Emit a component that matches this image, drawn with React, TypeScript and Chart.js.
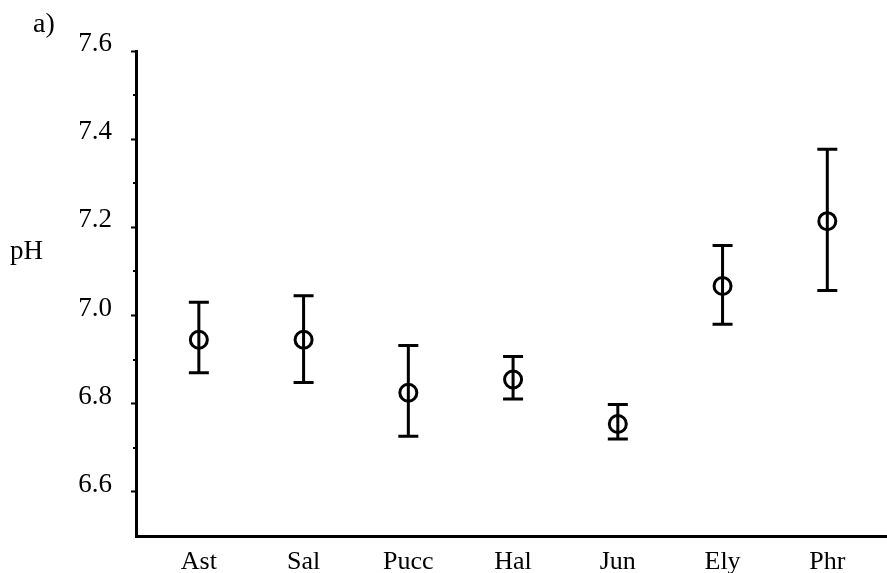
import React, { useEffect, useRef } from 'react';
import { Chart, registerables } from 'chart.js';

Chart.register(...registerables);

const categories = ['Ast', 'Sal', 'Pucc', 'Hal', 'Jun', 'Ely', 'Phr'];
const means = [6.945, 6.945, 6.825, 6.855, 6.754, 7.067, 7.214];
const upper = [7.030, 7.045, 6.932, 6.907, 6.798, 7.159, 7.377];
const lower = [6.870, 6.848, 6.726, 6.811, 6.720, 6.980, 7.057];
const yMajorTicks = [6.6, 6.8, 7.0, 7.2, 7.4, 7.6];
const yMinorTicks = [6.7, 6.9, 7.1, 7.3, 7.5];
const panelLabel = 'a)';
const yTitle = 'pH';

const FONT = "'Liberation Serif', 'Times New Roman', serif";

export default function App() {
  const ref = useRef<HTMLCanvasElement>(null);

  useEffect(() => {
    document.body.style.margin = '0';
    const canvas = ref.current;
    if (!canvas) return;

    const errorBars = {
      id: 'errorBars',
      beforeDatasetsDraw(chart: any) {
        const { ctx, scales } = chart;
        const x = scales.x;
        const y = scales.y;
        ctx.save();
        ctx.strokeStyle = '#000';
        ctx.lineWidth = 3;
        categories.forEach((_, i) => {
          const px = x.getPixelForValue(i + 1);
          const pt = y.getPixelForValue(upper[i]);
          const pb = y.getPixelForValue(lower[i]);
          ctx.beginPath();
          ctx.moveTo(px, pt);
          ctx.lineTo(px, pb);
          ctx.moveTo(px - 10, pt);
          ctx.lineTo(px + 10, pt);
          ctx.moveTo(px - 10, pb);
          ctx.lineTo(px + 10, pb);
          ctx.stroke();
        });
        ctx.restore();
      },
    };

    const extras = {
      id: 'extras',
      afterDraw(chart: any) {
        const { ctx, scales } = chart;
        const y = scales.y;
        ctx.save();
        ctx.strokeStyle = '#000';
        ctx.lineWidth = 2;
        yMinorTicks.forEach((v) => {
          const py = Math.round(y.getPixelForValue(v));
          ctx.beginPath();
          ctx.moveTo(y.right - 3, py);
          ctx.lineTo(y.right, py);
          ctx.stroke();
        });
        ctx.fillStyle = '#000';
        ctx.textAlign = 'left';
        ctx.textBaseline = 'alphabetic';
        ctx.font = `28px ${FONT}`;
        ctx.fillText(panelLabel, 33, 32);
        ctx.font = `27px ${FONT}`;
        ctx.fillText(yTitle, 10, 259);
        ctx.restore();
      },
    };

    const chart = new Chart(canvas, {
      type: 'scatter',
      data: {
        datasets: [
          {
            data: means.map((m, i) => ({ x: i + 1, y: m })),
            pointStyle: 'circle',
            pointRadius: 8.5,
            pointHoverRadius: 8.5,
            pointBorderWidth: 3,
            pointHoverBorderWidth: 3,
            pointBorderColor: '#000',
            pointBackgroundColor: 'rgba(0,0,0,0)',
            borderColor: '#000',
            backgroundColor: 'rgba(0,0,0,0)',
            showLine: false,
          },
        ],
      },
      options: {
        responsive: false,
        animation: false,
        devicePixelRatio: 1,
        layout: { autoPadding: false, padding: { top: 51, right: 0, left: 0, bottom: 0 } },
        plugins: {
          legend: { display: false },
          tooltip: { enabled: false },
          title: { display: false },
        },
        scales: {
          x: {
            type: 'linear',
            min: 0.4,
            max: 7.57,
            afterBuildTicks: (s: any) => {
              s.ticks = categories.map((_, i) => ({ value: i + 1 }));
            },
            afterFit: (s: any) => {
              s.height = 37;
            },
            ticks: {
              autoSkip: false,
              maxRotation: 0,
              minRotation: 0,
              padding: 3,
              color: '#000',
              font: { family: FONT, size: 26 },
              callback: (v: any) => categories[Math.round(Number(v)) - 1] ?? '',
            },
            grid: { display: false },
            border: { display: true, color: '#000', width: 3 },
          },
          y: {
            type: 'linear',
            min: 6.5,
            max: 7.6,
            afterBuildTicks: (s: any) => {
              s.ticks = yMajorTicks.map((v) => ({ value: v }));
            },
            afterFit: (s: any) => {
              s.width = 136;
            },
            ticks: {
              padding: 19,
              labelOffset: -7,
              color: '#000',
              font: { family: FONT, size: 27 },
              callback: (v: any) => Number(v).toFixed(1),
            },
            grid: {
              drawOnChartArea: false,
              drawTicks: true,
              tickLength: 5,
              tickWidth: 2,
              tickColor: '#000',
            },
            border: { display: true, color: '#000', width: 3 },
          },
        },
      },
      plugins: [errorBars, extras],
    });

    return () => chart.destroy();
  }, []);

  return (
    <div style={{ width: 887, height: 573, background: '#fff' }}>
      <canvas ref={ref} width={887} height={573} style={{ display: 'block' }} />
    </div>
  );
}
